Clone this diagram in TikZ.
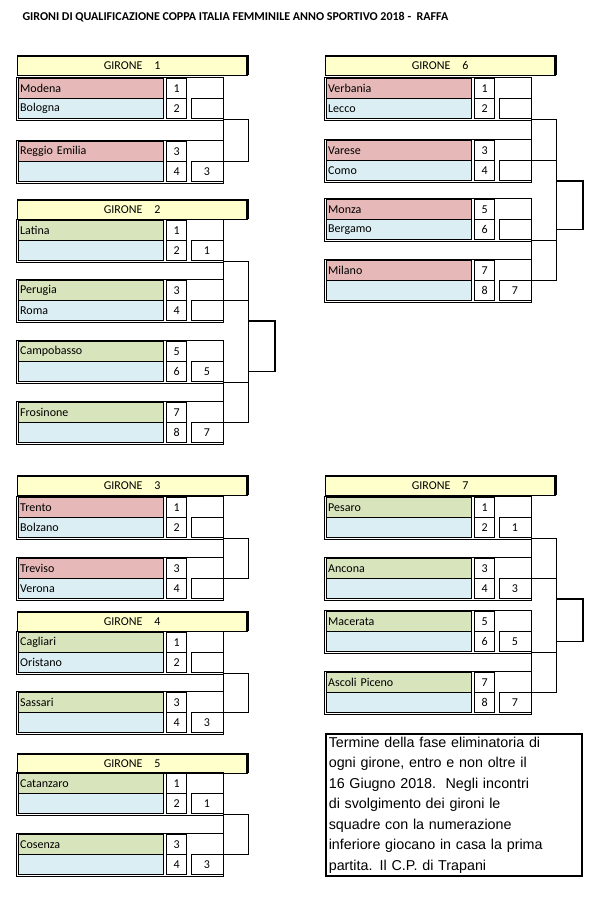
\documentclass[tikz,border=0pt]{standalone}
\usepackage{fontspec}
\setmainfont{Carlito}
\newfontfamily\notefont{Liberation Sans}
\usetikzlibrary{positioning}
\definecolor{pinkcell}{RGB}{230,184,183}
\definecolor{bluecell}{RGB}{218,238,243}
\definecolor{greencell}{RGB}{216,228,188}
\definecolor{headcell}{RGB}{255,255,204}

% one pair of teams: id, x, y, name1, colour1, name2, colour2, number, number
\newcommand\teampair[9]{%
  \node[namecell, fill=#5, anchor=north west] (#1a) at (#2,#3) {#4};
  \node[namecell, fill=#7, below=0pt of #1a] (#1b) {#6};
  \node[numcell, right=3pt of #1a] (#1n) {#8};
  \node[numcell, right=3pt of #1b] (#1m) {#9};
  \node[wincell, right=4pt of #1m] (#1w) {\winner};
  \draw (#1a.north west) ++(-2pt,1pt) rectangle ([shift={(0pt,-1pt)}]#1w.south east);
}
\newcommand\winner{}
% header of a group
\newcommand\girone[4]{%
  \node[headbox, anchor=north west] (#1) at (#2,#3) {GIRONE\quad #4};
  \draw[line width=2.5pt] (#1.north west) -- (#1.north east) -- (#1.south east);
}
% bracket joining the winners of two pairs
\newcommand\joinpair[3]{%
  \draw (#1w.north east) -- (#2w.north east);
  \draw (#1w.south east) -- ++(25pt,0) coordinate (#3) |- (#2w.north east);
}

\begin{document}
\begin{tikzpicture}[x=1pt, y=-1pt
    ,namecell/.style={draw, minimum height=20pt, text width=141pt, inner sep=2pt, align=left, font=\fontsize{12}{13}\selectfont}
    ,numcell/.style={draw, fill=white, minimum height=20pt, minimum width=20pt, inner sep=0pt, font=\fontsize{12}{13}\selectfont}
    ,wincell/.style={draw, fill=white, minimum height=20pt, minimum width=32pt, inner sep=0pt, font=\fontsize{12}{13}\selectfont}
    ,headbox/.style={draw, fill=headcell, minimum height=19pt, minimum width=230pt, inner sep=0pt, font=\fontsize{12}{13}\selectfont}
    ,final/.style={line width=1.6pt}
  ]
  \useasboundingbox (0,0) rectangle (603,898);
  \node[anchor=west, font=\bfseries\fontsize{12}{13}\selectfont] (title) at (19,17)
    {GIRONI DI QUALIFICAZIONE COPPA ITALIA FEMMINILE ANNO SPORTIVO 2018 -\ \ RAFFA};

  % girone 1
  \girone{g1}{17}{56}{1}
  \teampair{p11}{18}{78}{Modena}{pinkcell}{Bologna}{bluecell}{1}{2}
  \renewcommand\winner{3}
  \teampair{p12}{18}{141}{Reggio Emilia}{pinkcell}{}{bluecell}{3}{4}
  \renewcommand\winner{}
  \joinpair{p11}{p12}{j1}

  % girone 2
  \girone{g2}{17}{200}{2}
  \renewcommand\winner{1}
  \teampair{p21}{18}{220}{Latina}{greencell}{}{bluecell}{1}{2}
  \renewcommand\winner{}
  \teampair{p22}{18}{280}{Perugia}{greencell}{Roma}{bluecell}{3}{4}
  \renewcommand\winner{5}
  \teampair{p23}{18}{341}{Campobasso}{greencell}{}{bluecell}{5}{6}
  \renewcommand\winner{7}
  \teampair{p24}{18}{402}{Frosinone}{greencell}{}{bluecell}{7}{8}
  \renewcommand\winner{}
  \joinpair{p21}{p22}{j21}
  \joinpair{p23}{p24}{j22}
  \draw (j21 |- p22w.north) -- (j22 |- p23w.south);
  \draw[final] (j21 |- p22b.south) -- ++(27pt,0) |- (j22 |- p23b.center);

  % girone 3
  \girone{g3}{17}{476}{3}
  \teampair{p31}{18}{497}{Trento}{pinkcell}{Bolzano}{bluecell}{1}{2}
  \teampair{p32}{18}{558}{Treviso}{pinkcell}{Verona}{bluecell}{3}{4}
  \joinpair{p31}{p32}{j3}

  % girone 4
  \girone{g4}{17}{612}{4}
  \teampair{p41}{18}{632}{Cagliari}{greencell}{Oristano}{bluecell}{1}{2}
  \renewcommand\winner{3}
  \teampair{p42}{18}{692}{Sassari}{greencell}{}{bluecell}{3}{4}
  \renewcommand\winner{}
  \joinpair{p41}{p42}{j4}

  % girone 5
  \girone{g5}{17}{754}{5}
  \renewcommand\winner{1}
  \teampair{p51}{18}{773}{Catanzaro}{greencell}{}{bluecell}{1}{2}
  \renewcommand\winner{3}
  \teampair{p52}{18}{834}{Cosenza}{greencell}{}{bluecell}{3}{4}
  \renewcommand\winner{}
  \joinpair{p51}{p52}{j5}

  % girone 6
  \girone{g6}{325}{56}{6}
  \teampair{p61}{326}{78}{Verbania}{pinkcell}{Lecco}{bluecell}{1}{2}
  \teampair{p62}{326}{140}{Varese}{pinkcell}{Como}{bluecell}{3}{4}
  \teampair{p63}{326}{199}{Monza}{pinkcell}{Bergamo}{bluecell}{5}{6}
  \renewcommand\winner{7}
  \teampair{p64}{326}{260}{Milano}{pinkcell}{}{bluecell}{7}{8}
  \renewcommand\winner{}
  \joinpair{p61}{p62}{j61}
  \joinpair{p63}{p64}{j62}
  \draw (j61 |- p62w.north) -- (j62 |- p63w.south);
  \draw[final] (j61 |- p62b.south) -- ++(27pt,0) |- (j62 |- p63b.center);

  % girone 7
  \girone{g7}{325}{476}{7}
  \renewcommand\winner{1}
  \teampair{p71}{326}{497}{Pesaro}{greencell}{}{bluecell}{1}{2}
  \renewcommand\winner{3}
  \teampair{p72}{326}{558}{Ancona}{greencell}{}{bluecell}{3}{4}
  \renewcommand\winner{5}
  \teampair{p73}{326}{611}{Macerata}{greencell}{}{bluecell}{5}{6}
  \renewcommand\winner{7}
  \teampair{p74}{326}{672}{Ascoli Piceno}{greencell}{}{bluecell}{7}{8}
  \renewcommand\winner{}
  \joinpair{p71}{p72}{j71}
  \joinpair{p73}{p74}{j72}
  \draw (j71 |- p72w.north) -- (j72 |- p73w.south);
  \draw[final] (j71 |- p72b.south) -- ++(27pt,0) |- (j72 |- p73b.center);

  % note
  \node[draw, line width=1.6pt, anchor=north west, text width=250pt, inner sep=3pt, align=left,
    font=\notefont\fontsize{14.3}{20.5}\selectfont] (note) at (325,733)
    {Termine della fase eliminatoria di\\ogni girone, entro e non oltre il\\16 Giugno 2018.\ \ Negli incontri\\di svolgimento dei gironi le\\squadre con la numerazione\\inferiore giocano in casa la prima\\partita. Il C.P. di Trapani};
\end{tikzpicture}
\end{document}
